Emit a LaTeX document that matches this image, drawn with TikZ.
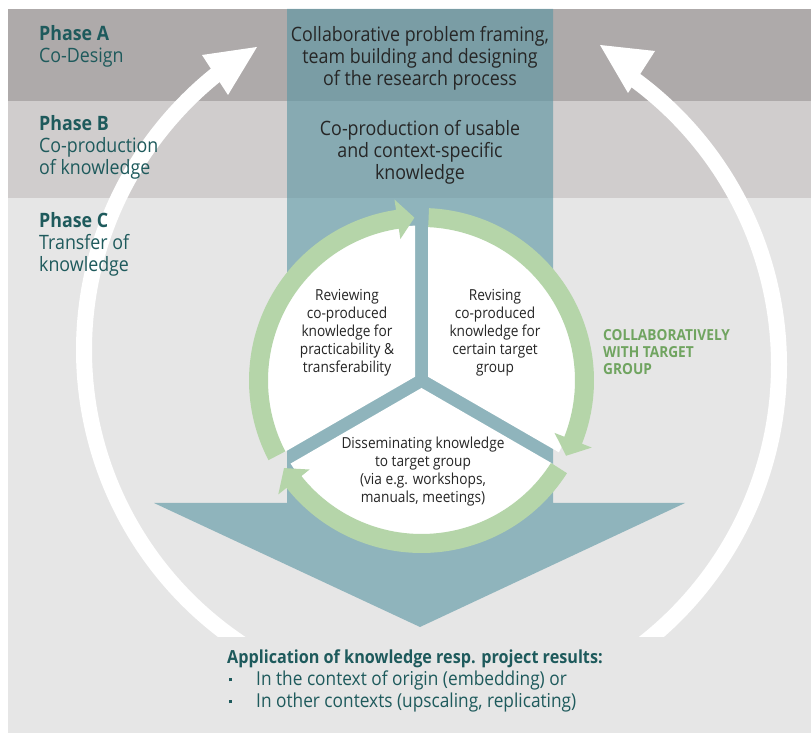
\documentclass[tikz,border=0pt]{standalone}
\usepackage{fontspec}
\setmainfont{Open Sans}[FakeStretch=0.9]
\usetikzlibrary{calc}
\definecolor{bandA}{RGB}{174,170,170}
\definecolor{bandB}{RGB}{208,205,205}
\definecolor{bandC}{RGB}{230,230,230}
\definecolor{tealbar}{RGB}{91,150,163}
\definecolor{ringgreen}{RGB}{181,213,169}
\definecolor{phasetxt}{RGB}{30,90,92}
\definecolor{bodytxt}{RGB}{38,38,38}
\definecolor{collabtxt}{RGB}{112,164,96}
\newcommand\ringarrow[3]{%
  \fill[ringgreen] ($(C)+(#1:172.5)$) arc[start angle=#1, end angle=#2, radius=172.5]
    -- ($(C)+(#2:183)$) -- ($(C)+(#3:163)$) -- ($(C)+(#2:143)$)
    -- ($(C)+(#2:153.5)$) arc[start angle=#2, end angle=#1, radius=153.5] -- cycle;}
\tikzset{
  phaselabel/.style={anchor=west, align=left, inner sep=0pt, text=phasetxt,
    font=\fontsize{19.8}{22}\selectfont},
  boxtext/.style={align=center, inner sep=0pt, text=bodytxt,
    font=\fontsize{19.8}{22}\selectfont},
  sectortext/.style={align=center, inner sep=0pt, text=bodytxt,
    font=\fontsize{15.2}{18}\selectfont},
  bigarc/.style={white, line width=16pt},
}
\begin{document}
\begin{tikzpicture}[x=1pt,y=1pt]
\useasboundingbox (0,0) rectangle (811,733);
\fill[white] (0,0) rectangle (811,733);
% bands
\fill[bandC] (8,0) rectangle (811,535);
\fill[bandB] (8,535) rectangle (811,632);
\fill[bandA] (8,632) rectangle (811,724);
% big teal arrow
\fill[tealbar, fill opacity=0.625] (287,724) -- (553,724) -- (553,230) -- (685,230)
  -- (420,106) -- (154,230) -- (287,230) -- cycle;
% white curved arrows
\coordinate (LC) at (437,383);
\coordinate (RC) at (425,368);
\begin{scope}
\clip (0,96) rectangle (811,733);
\draw[bigarc] ($(LC)+(240:353)$) arc[start angle=240, end angle=127.5, radius=353];
\draw[bigarc] ($(RC)+(-56:354)$) arc[start angle=-56, end angle=55, radius=354];
\end{scope}
\fill[white] (257,686) -- (202,678) -- (228,638) -- cycle;
\fill[white] (600,688) -- (655,682) -- (628,640) -- cycle;
% circle
\coordinate (C) at (421.5,352.5);
\begin{scope}[even odd rule]
\clip (0,0) rectangle (811,733)
  ($(C)+(270:7.5)$) -- ($(C)+(330:250)+(240:6.5)$) -- ($(C)+(330:250)+(60:6.5)$)
  -- ($(C)+(30:7.5)$) -- ($(C)+(90:250)+(0:6.5)$) -- ($(C)+(90:250)+(180:6.5)$)
  -- ($(C)+(150:7.5)$) -- ($(C)+(210:250)+(120:6.5)$) -- ($(C)+(210:250)+(300:6.5)$) -- cycle;
\fill[white] (C) circle[radius=155];
\end{scope}
\ringarrow{207.5}{98.5}{92.5}
\ringarrow{87.5}{-21.5}{-27.5}
\ringarrow{-32.5}{-141.5}{-147.5}
% texts
\node[phaselabel] (pa) at (39,687) {\textbf{Phase A}\\Co-Design};
\node[phaselabel] (pb) at (39,586) {\textbf{Phase B}\\Co-production\\of knowledge};
\node[phaselabel] (pc) at (39,488.5) {\textbf{Phase C}\\Transfer of\\knowledge};
\node[boxtext] (ta) at (420,675) {Collaborative problem framing,\\team building and designing\\of the research process};
\node[boxtext] (tb) at (420,581) {Co-production of usable\\and context-specific\\knowledge};
\node[sectortext] (s1) at (347,400) {Reviewing\\co-produced\\knowledge for\\practicability \&\\transferability};
\node[sectortext] (s2) at (495,400) {Revising\\co-produced\\knowledge for\\certain target\\group};
\node[sectortext] (s3) at (423,261) {Disseminating knowledge\\to target group\\(via e.g. workshops,\\manuals, meetings)};
\node[anchor=west, align=left, inner sep=0pt, text=collabtxt,
  font=\fontsize{15.2}{17}\selectfont\bfseries] (col) at (603,381) {COLLABORATIVELY\\WITH TARGET\\GROUP};
\node[anchor=west, align=left, inner sep=0pt, text=phasetxt,
  font=\fontsize{19.2}{22}\selectfont] (app) at (227,52)
  {{\fontsize{18}{22}\selectfont\bfseries Application of knowledge resp. project results:}\\
   \makebox[29pt][l]{\hspace*{1.5pt}\rule[0.22em]{3.5pt}{3.5pt}}In the context of origin (embedding) or\\
   \makebox[29pt][l]{\hspace*{1.5pt}\rule[0.22em]{3.5pt}{3.5pt}}In other contexts (upscaling, replicating)};
\end{tikzpicture}
\end{document}
